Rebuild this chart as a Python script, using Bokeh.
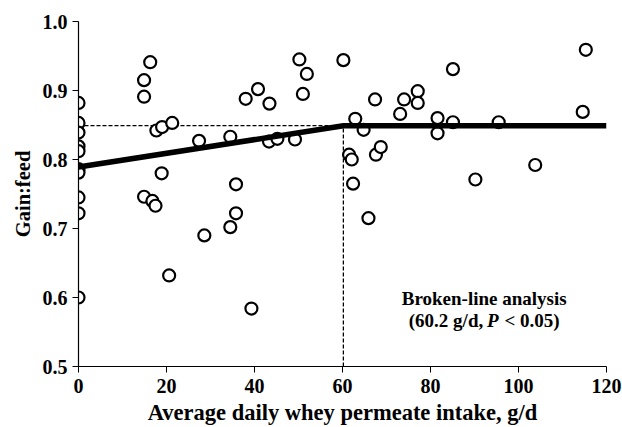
from bokeh.plotting import figure
from bokeh.models import Label, Range1d, FixedTicker, CustomJSTickFormatter
from bokeh.embed import file_html
from bokeh.resources import INLINE

# Data: average daily whey permeate intake (g/d) vs gain:feed
intake = [0, 0, 0, 0, 0, 0, 0, 0, 0, 0,
          14.9, 14.9, 16.3, 17.7, 19.0, 21.3, 18.9, 14.9, 16.8, 17.5, 20.6,
          27.4, 28.6, 34.5, 35.8, 35.8, 34.5, 39.3, 38.0, 40.8, 43.4, 43.3, 45.2, 49.2,
          50.2, 51.9, 51.0,
          60.2, 62.9, 64.8, 61.5, 62.1, 62.4, 65.9, 67.4, 67.6, 68.7, 73.1, 74.0,
          77.1, 77.1, 81.6, 81.6, 85.1, 85.1, 90.2, 95.5, 103.8, 115.3, 114.6]
gain_feed = [0.882, 0.853, 0.839, 0.819, 0.812, 0.786, 0.781, 0.745, 0.722, 0.600,
             0.915, 0.891, 0.941, 0.842, 0.847, 0.853, 0.780, 0.746, 0.740, 0.733, 0.632,
             0.827, 0.690, 0.833, 0.764, 0.722, 0.702, 0.584, 0.888, 0.902, 0.881, 0.826, 0.830, 0.829,
             0.945, 0.924, 0.895,
             0.944, 0.859, 0.843, 0.807, 0.800, 0.765, 0.715, 0.887, 0.807, 0.818, 0.866, 0.887,
             0.899, 0.882, 0.860, 0.838, 0.931, 0.854, 0.771, 0.854, 0.792, 0.959, 0.869]

# Broken-line fit
breakpoint_x = 60.2
plateau_y = 0.849
intercept_y = 0.789
fit_x = [0, breakpoint_x, 120]
fit_y = [intercept_y, plateau_y, plateau_y]

x_ticks = [0, 20, 40, 60, 80, 100, 120]
y_ticks = [0.5, 0.6, 0.7, 0.8, 0.9, 1.0]

FONT = "Liberation Serif"

p = figure(width=622, height=427, output_backend="svg", toolbar_location=None,
           x_range=Range1d(0, 120), y_range=Range1d(0.5, 1.0),
           min_border_left=78, min_border_right=16, min_border_top=21, min_border_bottom=59)
p.outline_line_color = None
p.grid.visible = False
p.background_fill_color = "white"

for ax in (p.xaxis[0], p.yaxis[0]):
    ax.major_label_text_font = FONT
    ax.major_label_text_font_style = "bold"
    ax.major_label_text_font_size = "20px"
    ax.major_label_text_color = "black"
    ax.axis_label_text_font = FONT
    ax.axis_label_text_font_style = "bold"
    ax.axis_label_text_color = "black"
    ax.minor_tick_line_color = None
    ax.major_tick_out = 6
    ax.major_tick_in = 0
    ax.axis_line_color = "black"
    ax.major_tick_line_color = "black"
    ax.axis_line_width = 1.2

p.xaxis.axis_label_text_font_size = "22.5px"
p.yaxis.axis_label_text_font_size = "20.5px"
p.xaxis.ticker = FixedTicker(ticks=x_ticks)
p.yaxis.ticker = FixedTicker(ticks=y_ticks)
p.yaxis.formatter = CustomJSTickFormatter(code="return tick.toFixed(1);")
p.xaxis.axis_label = "Average daily whey permeate intake, g/d"
p.yaxis.axis_label = "Gain:feed"
p.xaxis.major_label_standoff = 6
p.xaxis.axis_label_standoff = 4
p.yaxis.major_label_standoff = 5
p.yaxis.axis_label_standoff = 6

# reference dashed lines
p.line([0, breakpoint_x], [plateau_y, plateau_y], line_color="black", line_width=1.3, line_dash="4 2")
p.line([breakpoint_x, breakpoint_x], [0.5, plateau_y], line_color="black", line_width=1.3, line_dash="4 2")

p.scatter(intake, gain_feed, marker="circle", size=12, fill_color="white",
          line_color="black", line_width=2.2)

p.line(fit_x, fit_y, line_color="black", line_width=5.5)

# Annotation
cx = 92.2
fs = 19
p.add_layout(Label(x=cx, y=0.598, text="Broken-line analysis", text_align="center",
                   text_baseline="middle", text_font=FONT, text_font_style="bold",
                   text_font_size=f"{fs}px", text_color="black"))
w1 = (3.867 + 0.25) * fs
wp = (0.667 + 0.25) * fs
start = -7.937 * fs / 2
p.add_layout(Label(x=cx, y=0.567, x_offset=start, text="(60.2 g/d,", text_align="left",
                   text_baseline="middle", text_font=FONT, text_font_style="bold",
                   text_font_size=f"{fs}px", text_color="black"))
p.add_layout(Label(x=cx, y=0.567, x_offset=start + w1, text="P", text_align="left",
                   text_baseline="middle", text_font=FONT, text_font_style="bold italic",
                   text_font_size=f"{fs}px", text_color="black"))
p.add_layout(Label(x=cx, y=0.567, x_offset=start + w1 + wp, text="< 0.05)", text_align="left",
                   text_baseline="middle", text_font=FONT, text_font_style="bold",
                   text_font_size=f"{fs}px", text_color="black"))

open("out.html", "w").write(file_html(p, INLINE))
